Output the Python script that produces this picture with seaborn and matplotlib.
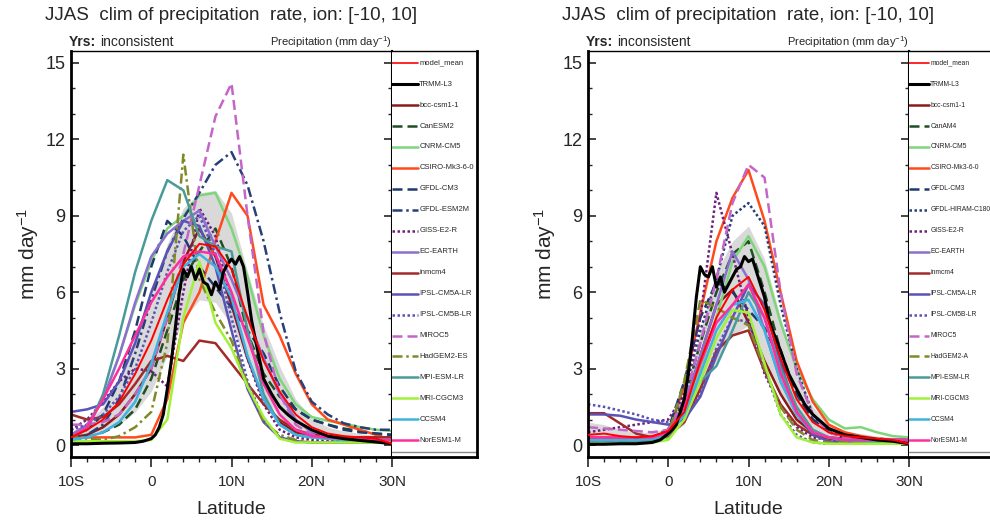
import matplotlib
matplotlib.use("Agg")
import matplotlib.pyplot as plt
import seaborn as sns
from matplotlib.ticker import MultipleLocator

# latitude grids
lat = [-10, -8, -6, -4, -2, 0, 2, 4, 6, 8, 10, 12, 14, 16, 18, 20, 22, 24, 26, 28, 30]
lat_trmm = [-10, -8, -6, -4, -2, -1, 0, 0.5, 1, 1.5, 2, 2.5, 3, 3.5, 4, 4.5, 5, 5.5, 6, 6.5,
            7, 7.5, 8, 8.5, 9, 9.5, 10, 10.5, 11, 11.5, 12, 12.5, 13, 14, 15, 16, 17, 18,
            20, 22, 24, 26, 28, 30]

# ---- left panel (coupled runs) ----
trmm_L = [0.05, 0.05, 0.07, 0.08, 0.1, 0.15, 0.25, 0.4, 0.7, 1.2, 2.2, 3.3, 4.6, 6.0, 6.9, 6.6,
          7.0, 6.5, 6.9, 6.4, 6.3, 5.9, 6.4, 6.1, 6.8, 7.1, 7.3, 7.1, 7.4, 7.0, 6.0, 4.9, 4.1,
          2.6, 2.0, 1.5, 1.2, 0.95, 0.6, 0.35, 0.25, 0.18, 0.12, 0.05]
mean_L = [0.3, 0.6, 1.0, 1.7, 2.8, 4.1, 5.7, 7.1, 7.9, 7.8, 6.9, 5.0, 3.3, 2.1, 1.2, 0.7, 0.45, 0.35, 0.3, 0.25, 0.05]
band_hi_L = [0.45, 0.9, 1.5, 2.6, 4.3, 6.1, 7.9, 9.3, 9.9, 10.0, 9.1, 6.8, 4.7, 3.1, 1.8, 1.05, 0.7, 0.55, 0.45, 0.37, 0.15]
band_lo_L = [0.15, 0.3, 0.5, 0.8, 1.3, 2.1, 3.5, 4.9, 5.7, 5.6, 4.7, 3.2, 1.9, 1.1, 0.6, 0.35, 0.2, 0.15, 0.15, 0.13, 0.0]

bcc_L = [0.3, 0.4, 0.7, 1.2, 2.0, 3.0, 5.0, 7.2, 8.5, 7.4, 5.5, 3.4, 1.8, 0.9, 0.5, 0.35, 0.3, 0.3, 0.3, 0.3, 0.3]
canesm2_L = [0.2, 0.3, 0.5, 0.8, 1.4, 2.6, 4.5, 6.5, 7.6, 8.5, 7.0, 4.4, 2.8, 1.9, 1.4, 1.0, 0.8, 0.65, 0.55, 0.45, 0.4]
cnrm_L = [0.3, 0.7, 1.8, 3.5, 5.5, 7.2, 8.5, 9.0, 9.8, 9.9, 8.5, 6.6, 4.3, 2.6, 1.6, 1.1, 0.95, 0.85, 0.7, 0.6, 0.55]
csiro_L = [0.3, 0.3, 0.3, 0.3, 0.3, 0.4, 1.8, 4.8, 6.0, 8.0, 9.9, 9.0, 5.5, 4.3, 2.8, 1.6, 1.0, 0.8, 0.6, 0.4, 0.2]
gfdlcm3_L = [0.3, 0.6, 1.2, 2.5, 4.5, 7.0, 8.8, 8.2, 7.0, 6.2, 5.4, 4.5, 3.6, 2.3, 1.4, 1.0, 0.8, 0.6, 0.5, 0.45, 0.4]
gfdlesm2m_L = [0.2, 0.4, 0.8, 1.8, 3.6, 5.7, 7.6, 8.9, 9.9, 11.0, 11.5, 10.2, 8.0, 5.2, 2.9, 1.7, 1.2, 0.85, 0.7, 0.6, 0.6]
giss_L = [0.6, 1.0, 1.7, 2.5, 3.0, 2.9, 2.3, 6.0, 9.3, 8.2, 5.6, 3.4, 1.6, 0.6, 0.3, 0.2, 0.15, 0.15, 0.1, 0.1, 0.1]
ecearth_L = [0.4, 0.8, 1.8, 3.5, 5.6, 7.4, 8.3, 8.8, 9.2, 7.8, 6.5, 5.0, 3.4, 2.0, 1.0, 0.5, 0.3, 0.2, 0.2, 0.2, 0.2]
inmcm4_L = [1.2, 1.0, 1.1, 1.6, 2.4, 3.3, 3.5, 3.3, 4.1, 4.0, 3.2, 2.4, 1.6, 1.0, 0.6, 0.4, 0.35, 0.3, 0.3, 0.3, 0.3]
ipsl5a_L = [1.3, 1.4, 1.6, 2.5, 4.0, 6.0, 7.6, 8.8, 8.6, 7.0, 4.5, 2.2, 0.9, 0.3, 0.15, 0.1, 0.1, 0.1, 0.1, 0.1, 0.1]
ipsl5b_L = [0.6, 0.8, 1.2, 1.9, 3.0, 4.8, 6.8, 8.4, 9.0, 7.5, 5.0, 2.5, 1.0, 0.3, 0.15, 0.1, 0.1, 0.1, 0.1, 0.1, 0.1]
miroc5_L = [0.8, 0.8, 0.9, 1.2, 2.0, 3.0, 5.0, 7.5, 10.2, 12.9, 14.2, 9.0, 4.4, 2.0, 0.8, 0.4, 0.3, 0.25, 0.2, 0.2, 0.2]
hadgem_L = [0.3, 0.25, 0.2, 0.35, 0.7, 1.3, 4.0, 11.4, 6.5, 5.2, 4.1, 2.4, 0.9, 0.4, 0.2, 0.1, 0.1, 0.1, 0.1, 0.1, 0.1]
mpi_L = [0.3, 0.6, 2.0, 4.3, 6.8, 8.8, 10.4, 10.0, 8.2, 7.8, 7.6, 4.5, 2.0, 0.8, 0.4, 0.3, 0.25, 0.2, 0.2, 0.2, 0.2]
mri_L = [0.15, 0.15, 0.15, 0.15, 0.15, 0.2, 1.0, 5.0, 7.2, 4.8, 3.8, 2.3, 1.1, 0.25, 0.1, 0.1, 0.1, 0.1, 0.1, 0.1, 0.1]
ccsm4_L = [0.2, 0.3, 0.5, 0.9, 1.7, 3.2, 5.2, 7.0, 7.5, 7.0, 5.8, 3.5, 1.8, 0.8, 0.4, 0.3, 0.25, 0.2, 0.2, 0.2, 0.2]
noresm_L = [0.3, 0.7, 1.8, 3.0, 4.3, 5.6, 6.6, 7.4, 7.6, 7.5, 6.0, 4.2, 2.4, 1.2, 0.6, 0.35, 0.3, 0.25, 0.2, 0.2, 0.2]

# ---- right panel (AMIP runs) ----
trmm_R = [0.03, 0.03, 0.05, 0.05, 0.1, 0.2, 0.45, 0.6, 0.8, 1.3, 1.8, 2.8, 4.2, 5.8, 7.0, 6.7,
          6.6, 7.0, 6.2, 6.6, 6.0, 6.3, 6.6, 6.9, 7.0, 7.4, 7.2, 7.3, 6.8, 6.3, 5.8, 5.0, 4.5,
          3.7, 2.8, 2.2, 1.6, 1.2, 0.65, 0.4, 0.3, 0.2, 0.15, 0.05]
mean_R = [0.4, 0.45, 0.35, 0.3, 0.35, 0.55, 1.3, 3.3, 5.0, 6.1, 6.6, 5.3, 3.4, 1.8, 0.9, 0.5, 0.35, 0.3, 0.25, 0.2, 0.05]
band_hi_R = [0.9, 0.8, 0.6, 0.5, 0.5, 0.7, 1.8, 4.5, 6.8, 8.0, 8.6, 7.3, 5.0, 2.9, 1.5, 0.8, 0.55, 0.45, 0.35, 0.3, 0.15]
band_lo_R = [0.15, 0.15, 0.15, 0.15, 0.2, 0.4, 0.8, 2.2, 3.3, 4.3, 4.7, 3.4, 1.9, 0.9, 0.4, 0.25, 0.2, 0.15, 0.12, 0.1, 0.0]

bcc_R = [0.3, 0.3, 0.3, 0.3, 0.3, 0.5, 1.5, 3.5, 5.5, 6.1, 4.8, 3.3, 2.0, 1.0, 0.5, 0.3, 0.25, 0.2, 0.2, 0.2, 0.2]
canam4_R = [0.2, 0.2, 0.2, 0.2, 0.25, 0.5, 1.8, 4.0, 6.0, 7.5, 8.0, 6.0, 3.7, 2.0, 1.0, 0.6, 0.4, 0.3, 0.25, 0.2, 0.15]
cnrm_R = [0.1, 0.1, 0.1, 0.1, 0.15, 0.3, 1.2, 3.0, 5.0, 7.2, 8.2, 7.0, 4.8, 3.0, 1.8, 1.0, 0.65, 0.7, 0.5, 0.35, 0.3]
csiro_R = [0.3, 0.3, 0.3, 0.3, 0.3, 0.5, 2.3, 5.2, 8.0, 9.7, 10.8, 8.8, 6.0, 3.3, 1.7, 0.8, 0.5, 0.35, 0.25, 0.2, 0.1]
gfdlcm3_R = [0.2, 0.2, 0.2, 0.2, 0.3, 0.6, 2.5, 5.0, 6.4, 6.0, 5.3, 4.6, 3.3, 2.0, 1.0, 0.6, 0.4, 0.3, 0.25, 0.2, 0.2]
hiram_R = [0.2, 0.2, 0.2, 0.2, 0.3, 0.6, 2.0, 4.5, 6.5, 9.0, 9.5, 8.6, 5.5, 3.0, 1.2, 0.5, 0.3, 0.2, 0.2, 0.15, 0.1]
giss_R = [0.5, 0.6, 0.7, 0.8, 0.9, 1.0, 2.0, 5.0, 9.9, 7.5, 5.0, 2.8, 1.5, 0.7, 0.3, 0.2, 0.15, 0.1, 0.1, 0.1, 0.1]
ecearth_R = [0.2, 0.2, 0.2, 0.2, 0.25, 0.5, 1.5, 3.5, 5.5, 7.6, 6.5, 4.5, 2.5, 1.2, 0.5, 0.3, 0.2, 0.2, 0.2, 0.2, 0.2]
inmcm4_R = [1.25, 1.25, 0.85, 0.45, 0.3, 0.35, 0.9, 2.2, 3.7, 4.3, 4.5, 2.9, 1.6, 0.8, 0.4, 0.25, 0.2, 0.2, 0.2, 0.2, 0.2]
ipsl5a_R = [1.2, 1.2, 1.15, 1.0, 0.9, 0.8, 1.0, 1.9, 3.5, 5.0, 6.3, 5.5, 3.2, 1.3, 0.4, 0.15, 0.1, 0.1, 0.1, 0.1, 0.1]
ipsl5b_R = [1.6, 1.5, 1.35, 1.2, 1.0, 0.9, 1.0, 2.0, 3.8, 5.0, 4.8, 3.0, 1.2, 0.4, 0.1, 0.05, 0.05, 0.05, 0.05, 0.05, 0.05]
miroc5_R = [0.7, 0.65, 0.6, 0.55, 0.5, 0.6, 1.8, 4.0, 6.5, 9.5, 11.0, 10.5, 6.0, 2.8, 1.2, 0.5, 0.3, 0.2, 0.2, 0.2, 0.2]
hadgem_R = [0.1, 0.1, 0.1, 0.1, 0.15, 0.4, 2.5, 5.7, 5.4, 5.0, 4.7, 3.0, 1.5, 0.6, 0.2, 0.1, 0.1, 0.1, 0.1, 0.1, 0.1]
mpi_R = [0.1, 0.1, 0.1, 0.1, 0.2, 0.4, 1.2, 2.5, 3.1, 4.5, 6.0, 5.0, 3.0, 1.5, 0.6, 0.3, 0.2, 0.15, 0.1, 0.1, 0.1]
mri_R = [0.05, 0.05, 0.05, 0.05, 0.1, 0.2, 1.0, 2.5, 4.2, 5.3, 5.2, 3.2, 1.2, 0.3, 0.1, 0.05, 0.05, 0.05, 0.05, 0.05, 0.05]
ccsm4_R = [0.2, 0.2, 0.2, 0.2, 0.25, 0.4, 1.2, 2.8, 4.5, 5.5, 5.7, 4.5, 2.5, 1.2, 0.5, 0.3, 0.2, 0.2, 0.2, 0.2, 0.2]
noresm_R = [0.3, 0.3, 0.3, 0.3, 0.3, 0.5, 1.5, 3.2, 4.8, 5.5, 6.3, 5.0, 2.8, 1.3, 0.5, 0.3, 0.2, 0.2, 0.2, 0.2, 0.2]

# line styles
DASH = (0, (4, 2))
DASHDOT = (0, (4, 1.5, 1, 1.5))
DOT = (0, (1, 1))

models_L = [
    ("bcc-csm1-1", bcc_L, "#8b1a1a", "-"),
    ("CanESM2", canesm2_L, "#1f4f23", DASH),
    ("CNRM-CM5", cnrm_L, "#7fd67a", "-"),
    ("CSIRO-Mk3-6-0", csiro_L, "#ff4a1c", "-"),
    ("GFDL-CM3", gfdlcm3_L, "#1f3a6e", DASH),
    ("GFDL-ESM2M", gfdlesm2m_L, "#283f7a", DASHDOT),
    ("GISS-E2-R", giss_L, "#6e1f7e", DOT),
    ("EC-EARTH", ecearth_L, "#8c6fcf", "-"),
    ("inmcm4", inmcm4_L, "#a22a2a", "-"),
    ("IPSL-CM5A-LR", ipsl5a_L, "#5a52b5", "-"),
    ("IPSL-CM5B-LR", ipsl5b_L, "#5a52b5", DOT),
    ("MIROC5", miroc5_L, "#c466c8", DASH),
    ("HadGEM2-ES", hadgem_L, "#7f8a26", DASHDOT),
    ("MPI-ESM-LR", mpi_L, "#4a9a9a", "-"),
    ("MRI-CGCM3", mri_L, "#a2f03a", "-"),
    ("CCSM4", ccsm4_L, "#3fb2e0", "-"),
    ("NorESM1-M", noresm_L, "#ff2e9e", "-"),
]
models_R = [
    ("bcc-csm1-1", bcc_R, "#8b1a1a", "-"),
    ("CanAM4", canam4_R, "#1f4f23", DASH),
    ("CNRM-CM5", cnrm_R, "#7fd67a", "-"),
    ("CSIRO-Mk3-6-0", csiro_R, "#ff4a1c", "-"),
    ("GFDL-CM3", gfdlcm3_R, "#1f3a6e", DASH),
    ("GFDL-HIRAM-C180", hiram_R, "#283f7a", DOT),
    ("GISS-E2-R", giss_R, "#6e1f7e", DOT),
    ("EC-EARTH", ecearth_R, "#8c6fcf", "-"),
    ("inmcm4", inmcm4_R, "#a22a2a", "-"),
    ("IPSL-CM5A-LR", ipsl5a_R, "#5a52b5", "-"),
    ("IPSL-CM5B-LR", ipsl5b_R, "#5a52b5", DOT),
    ("MIROC5", miroc5_R, "#c466c8", DASH),
    ("HadGEM2-A", hadgem_R, "#7f8a26", DASH),
    ("MPI-ESM-LR", mpi_R, "#4a9a9a", "-"),
    ("MRI-CGCM3", mri_R, "#a2f03a", "-"),
    ("CCSM4", ccsm4_R, "#3fb2e0", "-"),
    ("NorESM1-M", noresm_R, "#ff2e9e", "-"),
]

sns.set_style("ticks")
plt.rcParams['font.family'] = ['Liberation Sans', 'DejaVu Sans']
plt.rcParams['mathtext.fontset'] = 'custom'
plt.rcParams['mathtext.rm'] = 'Liberation Sans'
plt.rcParams['mathtext.it'] = 'Liberation Sans:italic'

W, H = 990, 523
fig = plt.figure(figsize=(9.9, 5.23), dpi=100)


def box(x0, y0, w, h):
    return [x0 / W, 1 - (y0 + h) / H, w / W, h / H]


def draw_panel(x0, models, trmm, mean, lo, hi, seg, legfont):
    ax = fig.add_axes(box(x0, 51, 321, 406))
    axl = fig.add_axes(box(x0 + 321, 51, 85, 406))

    ax.fill_between(lat, lo, hi, color="#d9d9d9", lw=0, zorder=1)
    for name, vals, col, ls in models:
        sns.lineplot(x=lat, y=vals, ax=ax, color=col, linestyle=ls, lw=1.8, zorder=2)
    sns.lineplot(x=lat_trmm, y=trmm, ax=ax, color="black", lw=2.2, zorder=3)
    sns.lineplot(x=lat, y=mean, ax=ax, color="red", lw=1.4, zorder=4)

    ax.set_xlim(-10, 30)
    ax.set_ylim(-0.47, 15.47)
    ax.set_xticks([-10, 0, 10, 20, 30])
    ax.set_xticklabels(["10S", "0", "10N", "20N", "30N"])
    ax.xaxis.set_minor_locator(MultipleLocator(2))
    ax.set_yticks([0, 3, 6, 9, 12, 15])
    ax.yaxis.set_minor_locator(MultipleLocator(1))
    ax.tick_params(axis="x", which="major", direction="out", length=7, width=1.2, labelsize=11, pad=6)
    ax.tick_params(axis="x", which="minor", direction="out", length=3.5, width=1)
    ax.tick_params(axis="y", which="major", direction="in", length=6, width=1.2, labelsize=13,
                   pad=4, left=True, right=True)
    ax.tick_params(axis="y", which="minor", direction="in", length=3, width=1, left=True, right=True)
    ax.set_xlabel("Latitude", fontsize=14)
    ax.set_ylabel("mm day$^{-1}$", fontsize=15)
    ax.xaxis.set_label_coords(0.5, -0.108)
    ax.yaxis.set_label_coords(-0.092, 0.5)
    ax.spines["left"].set_linewidth(2)
    ax.spines["bottom"].set_linewidth(2)
    ax.spines["top"].set_linewidth(1)
    ax.spines["right"].set_linewidth(1.5)
    for s in ax.spines.values():
        s.set_color("black")

    # legend panel
    axl.set_xlim(0, 1)
    axl.set_ylim(0, 1)
    axl.set_xticks([])
    axl.set_yticks([])
    axl.spines["left"].set_visible(False)
    axl.spines["top"].set_linewidth(1)
    axl.spines["right"].set_linewidth(2)
    axl.spines["bottom"].set_linewidth(2)
    for s in axl.spines.values():
        s.set_color("black")
    entries = [("model_mean", "red", "-", 1.2), ("TRMM-L3", "black", "-", 2.2)]
    entries += [(n, c, ls, 1.8) for n, v, c, ls in models]
    for i, (name, col, ls, lw) in enumerate(entries):
        y = 0.970 - i * 0.0516
        axl.plot([0, seg], [y, y], color=col, linestyle=ls, lw=lw)
        axl.text(seg + 0.01, y, name, fontsize=legfont, va="center", ha="left")
    axl.axhline(0.013, color="#888888", lw=1)

    cx = x0 + 160.5
    fig.text(cx / W, 1 - 15 / H, "JJAS  clim of precipitation  rate, ion: [-10, 10]",
             ha="center", va="center", fontsize=13.5)
    fig.text((x0 - 2) / W, 1 - 42 / H, "Yrs:", ha="left", va="center", fontsize=10, fontweight="bold")
    fig.text((x0 + 29) / W, 1 - 42 / H, "inconsistent", ha="left", va="center", fontsize=10)
    fig.text((x0 + 321) / W, 1 - 42 / H, "Precipitation (mm day$^{-1}$)",
             ha="right", va="center", fontsize=8)
    return ax


draw_panel(71, models_L, trmm_L, mean_L, band_lo_L, band_hi_L, 0.31, 5.5)
draw_panel(588, models_R, trmm_R, mean_R, band_lo_R, band_hi_R, 0.24, 4.9)

fig.savefig("out.png", dpi=100)
